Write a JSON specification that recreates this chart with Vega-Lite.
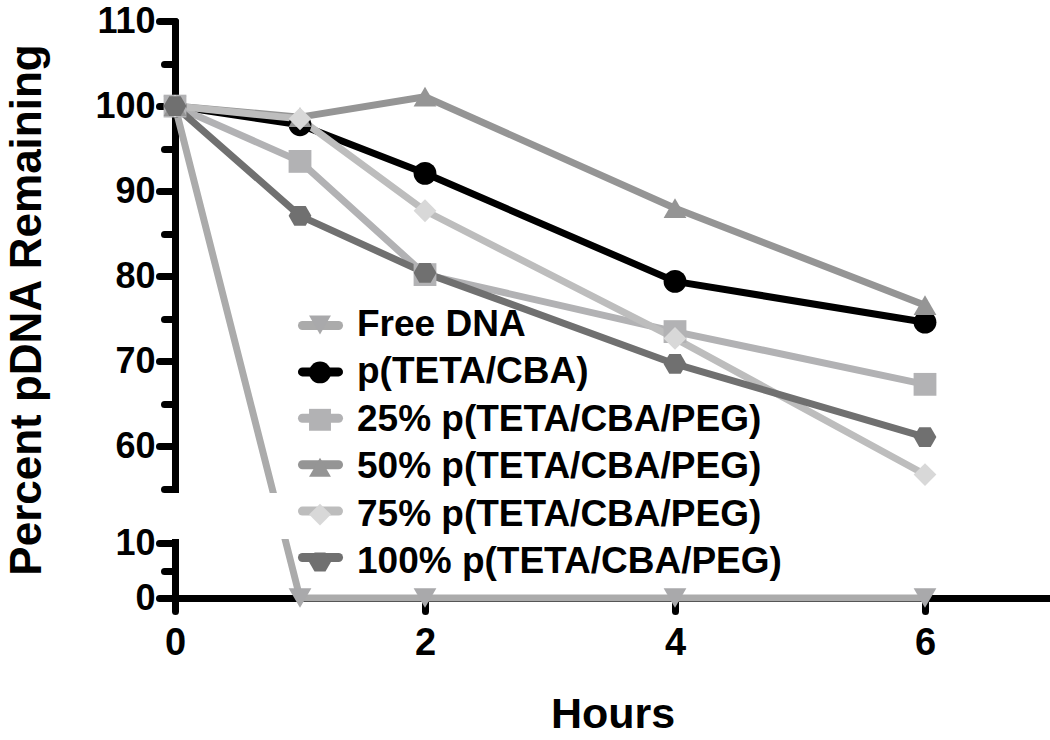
{
  "$schema": "https://vega.github.io/schema/vega-lite/v6.json",
  "width": 875,
  "height": 577,
  "autosize": {"type": "none"},
  "padding": {"left": 175, "top": 21, "right": 0, "bottom": 142},
  "background": "white",
  "config": {
    "view": {"stroke": null},
    "font": "Liberation Sans",
    "axis": {
      "grid": false,
      "domainColor": "black",
      "domainWidth": 7,
      "domainCap": "round",
      "tickColor": "black",
      "tickWidth": 7,
      "tickCap": "round",
      "labelFont": "Liberation Sans",
      "labelFontWeight": "bold",
      "labelFontSize": 36,
      "labelColor": "black",
      "labelOverlap": false,
      "labelBound": false,
      "labelFlush": false,
      "titleFont": "Liberation Sans",
      "titleFontWeight": "bold",
      "titleFontSize": 44,
      "titleColor": "black"
    },
    "axisX": {"tickSize": 13, "labelPadding": 13, "titlePadding": 31, "format": "d", "labelFontSize": 38, "titleFontSize": 43},
    "axisY": {"tickSize": 16, "labelPadding": 4, "titlePadding": 45},
    "legend": {
      "labelFont": "Liberation Sans",
      "labelFontWeight": "bold",
      "labelFontSize": 37,
      "labelColor": "black",
      "labelLimit": 700,
      "padding": 0
    }
  },
  "data": {
    "values": [
      {"series": "Free DNA", "hours": 0, "percent": 100},
      {"series": "Free DNA", "hours": 1, "percent": 0},
      {"series": "Free DNA", "hours": 2, "percent": 0},
      {"series": "Free DNA", "hours": 4, "percent": 0},
      {"series": "Free DNA", "hours": 6, "percent": 0},
      {"series": "p(TETA/CBA)", "hours": 0, "percent": 100},
      {"series": "p(TETA/CBA)", "hours": 1, "percent": 97.8},
      {"series": "p(TETA/CBA)", "hours": 2, "percent": 92.1},
      {"series": "p(TETA/CBA)", "hours": 4, "percent": 79.4},
      {"series": "p(TETA/CBA)", "hours": 6, "percent": 74.6},
      {"series": "25% p(TETA/CBA/PEG)", "hours": 0, "percent": 100},
      {"series": "25% p(TETA/CBA/PEG)", "hours": 1, "percent": 93.5},
      {"series": "25% p(TETA/CBA/PEG)", "hours": 2, "percent": 80.2},
      {"series": "25% p(TETA/CBA/PEG)", "hours": 4, "percent": 73.5},
      {"series": "25% p(TETA/CBA/PEG)", "hours": 6, "percent": 67.3},
      {"series": "50% p(TETA/CBA/PEG)", "hours": 0, "percent": 100},
      {"series": "50% p(TETA/CBA/PEG)", "hours": 1, "percent": 98.7},
      {"series": "50% p(TETA/CBA/PEG)", "hours": 2, "percent": 101.1},
      {"series": "50% p(TETA/CBA/PEG)", "hours": 4, "percent": 88.0},
      {"series": "50% p(TETA/CBA/PEG)", "hours": 6, "percent": 76.6},
      {"series": "75% p(TETA/CBA/PEG)", "hours": 0, "percent": 100},
      {"series": "75% p(TETA/CBA/PEG)", "hours": 1, "percent": 98.5},
      {"series": "75% p(TETA/CBA/PEG)", "hours": 2, "percent": 87.7},
      {"series": "75% p(TETA/CBA/PEG)", "hours": 4, "percent": 72.7},
      {"series": "75% p(TETA/CBA/PEG)", "hours": 6, "percent": 56.7},
      {"series": "100% p(TETA/CBA/PEG)", "hours": 0, "percent": 100},
      {"series": "100% p(TETA/CBA/PEG)", "hours": 1, "percent": 87.1},
      {"series": "100% p(TETA/CBA/PEG)", "hours": 2, "percent": 80.4},
      {"series": "100% p(TETA/CBA/PEG)", "hours": 4, "percent": 69.7},
      {"series": "100% p(TETA/CBA/PEG)", "hours": 6, "percent": 61.1}
    ]
  },
  "layer": [
    {
      "mark": {"type": "line", "strokeWidth": 7, "strokeJoin": "round", "strokeCap": "round"},
      "encoding": {
        "x": {"field": "hours", "type": "quantitative", "title": "Hours",
              "scale": {"domain": [0, 7], "nice": false, "zero": false},
              "axis": {"values": [0, 2, 4, 6]}},
        "y": {"field": "percent", "type": "quantitative", "title": "Percent pDNA Remaining",
              "scale": {"domain": [0, 10, 55, 110], "range": [577, 522, 468, 0], "nice": false, "zero": false},
              "axis": {"values": [0, 10, 60, 70, 80, 90, 100, 110], "orient": "left"}},
        "stroke": {"field": "series", "type": "nominal",
                   "sort": ["Free DNA", "p(TETA/CBA)", "25% p(TETA/CBA/PEG)", "50% p(TETA/CBA/PEG)", "75% p(TETA/CBA/PEG)", "100% p(TETA/CBA/PEG)"],
                   "scale": {"range": ["#ababab", "#000000", "#b2b2b4", "#959595", "#bdbdbd", "#707070"]},
                   "legend": {"orient": "none", "legendX": 122.5, "legendY": 281.5, "title": null,
                              "symbolType": "stroke", "symbolSize": 1300, "symbolStrokeWidth": 9,
                              "labelOffset": 14.5, "labelExpr": "''", "rowPadding": 5.4,
                              "encode": {"symbols": {"update": {"strokeCap": {"value": "round"}}}}}}
      }
    },
    {
      "mark": {"type": "point", "filled": true, "opacity": 1, "size": 520, "strokeWidth": 0},
      "encoding": {
        "x": {"field": "hours", "type": "quantitative", "title": "Hours"},
        "y": {"field": "percent", "type": "quantitative", "axis": null},
        "fill": {"field": "series", "type": "nominal",
                 "scale": {"domain": ["Free DNA", "p(TETA/CBA)", "25% p(TETA/CBA/PEG)", "50% p(TETA/CBA/PEG)", "75% p(TETA/CBA/PEG)", "100% p(TETA/CBA/PEG)"],
                           "range": ["#a9a9ab", "#000000", "#b2b2b4", "#959595", "#d8d8d8", "#707070"]},
                 "legend": {"orient": "none", "legendX": 126.5, "legendY": 285.5, "title": null,
                            "symbolSize": 480, "symbolStrokeWidth": 0, "labelOffset": 18.5, "rowPadding": 9.4}},
        "shape": {"field": "series", "type": "nominal",
                  "scale": {"domain": ["Free DNA", "p(TETA/CBA)", "25% p(TETA/CBA/PEG)", "50% p(TETA/CBA/PEG)", "75% p(TETA/CBA/PEG)", "100% p(TETA/CBA/PEG)"],
                            "range": ["triangle-down", "circle", "square", "triangle-up", "diamond", "M-1,0L-0.5,-0.866L0.5,-0.866L1,0L0.5,0.866L-0.5,0.866Z"]},
                  "legend": {"orient": "none", "legendX": 126.5, "legendY": 285.5, "title": null,
                             "symbolSize": 480, "symbolStrokeWidth": 0, "labelOffset": 18.5, "rowPadding": 9.4}}
      }
    },
    {
      "data": {"values": [{"gap": "axis break"}]},
      "mark": {"type": "rect", "fill": "white", "stroke": null, "xOffset": -14, "yOffset": 4, "y2Offset": -4},
      "encoding": {
        "x": {"datum": 0, "type": "quantitative", "title": "Hours"},
        "x2": {"datum": 7},
        "y": {"datum": 55, "type": "quantitative",
              "axis": {"orient": "left", "values": [5, 55, 65, 75, 85, 95, 105], "labels": false, "domain": false, "tickSize": 11, "title": null}},
        "y2": {"datum": 10}
      }
    }
  ],
  "resolve": {"axis": {"y": "independent"}}
}
